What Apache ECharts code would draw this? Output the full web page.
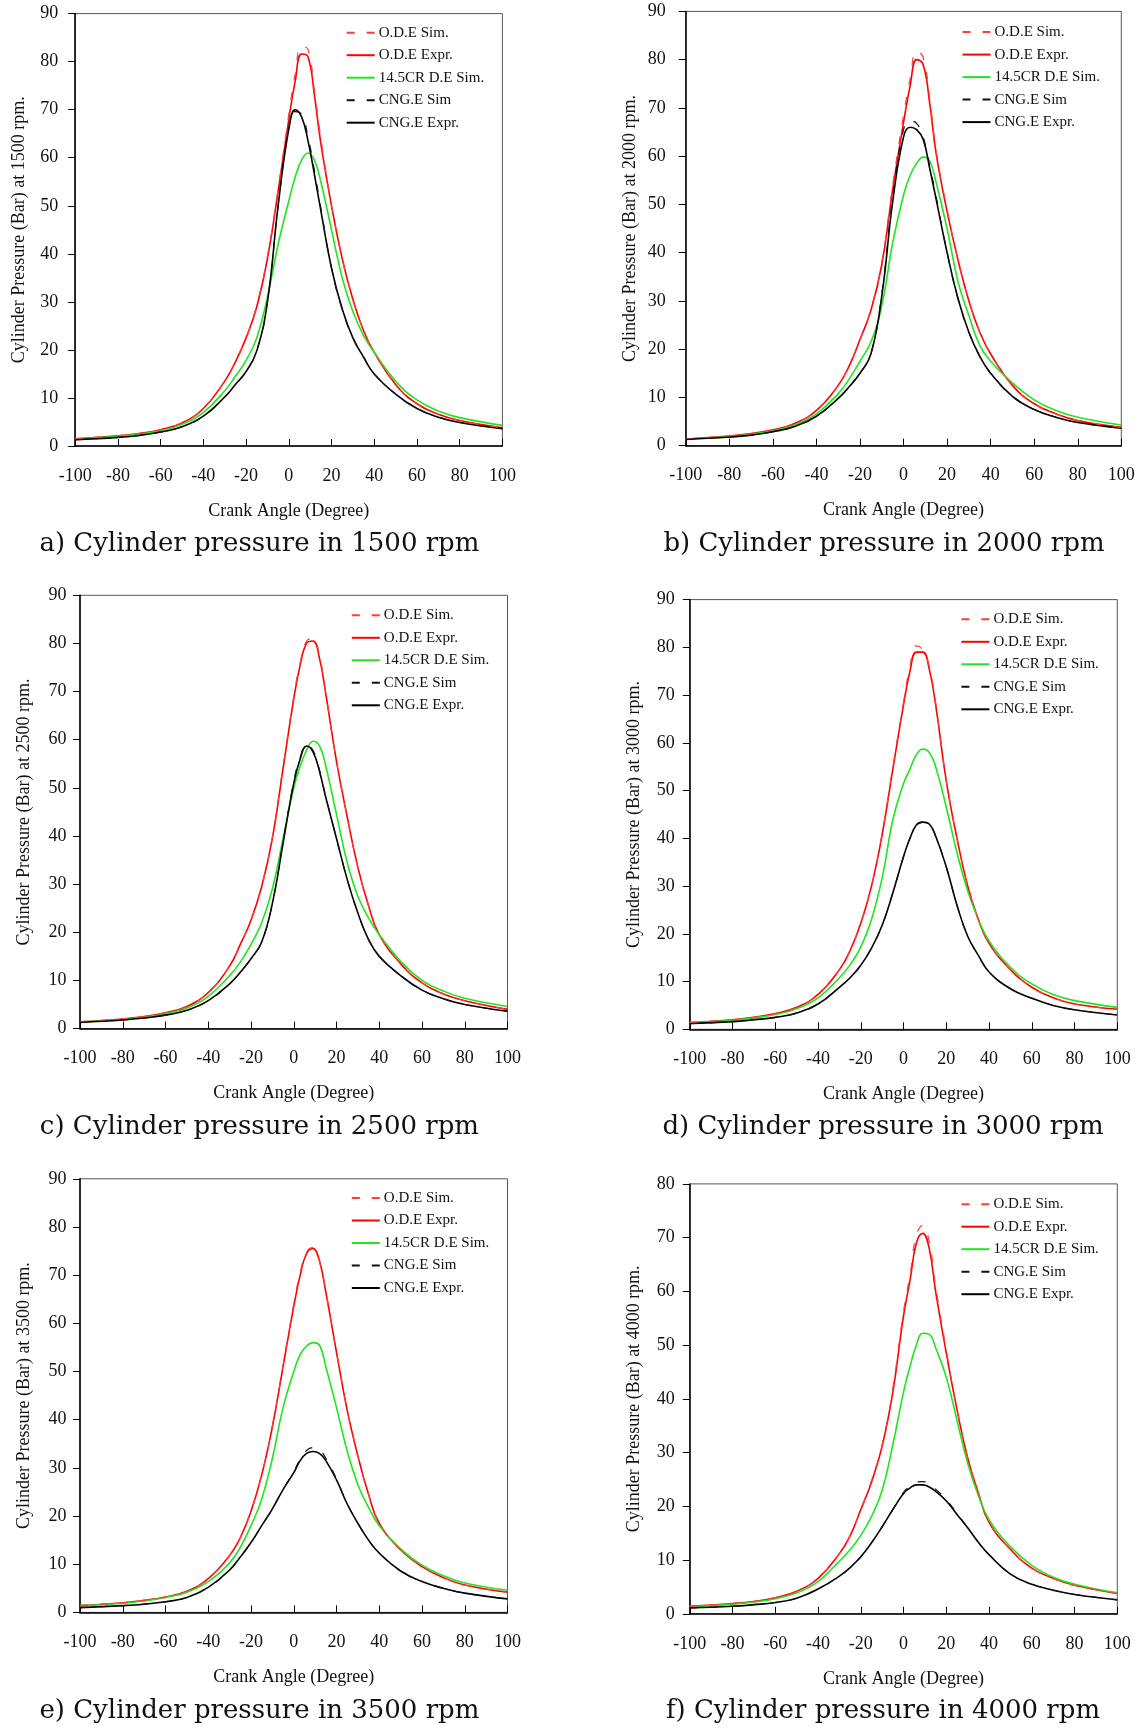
<!DOCTYPE html>
<html>
<head>
<meta charset="utf-8">
<script src="https://cdn.jsdelivr.net/npm/echarts@6/dist/echarts.min.js"></script>
<style>
html,body{margin:0;padding:0;background:#fff;}
#chart{width:1141px;height:1728px;}
</style>
</head>
<body>
<div id="chart"></div>
<script>
// Crank angle sample points (degrees)
const crankAngle = [-100,-80,-70,-60,-50,-40,-30,-25,-20,-15,-10,-5,0,3,6,9,12,15,20,25,30,35,40,50,60,70,80,100];
const seriesNames = ['O.D.E Sim.','O.D.E Expr.','14.5CR D.E Sim.','CNG.E Sim','CNG.E Expr.'];
const rpmLabels = ['1500','2000','2500','3000','3500','4000'];
const captions = ['a) Cylinder pressure in 1500 rpm','b) Cylinder pressure in 2000 rpm','c) Cylinder pressure in 2500 rpm','d) Cylinder pressure in 3000 rpm','e) Cylinder pressure in 3500 rpm','f) Cylinder pressure in 4000 rpm'];
const yMax = [90,90,90,90,90,80];

// a) 1500 rpm
const odeSimA = [1.5,2.1,2.6,3.4,4.8,7.8,13.5,17.5,22.5,29.3,39.5,53.5,69,77.5,83.3,82.5,74,64,50,39,30.5,24,19.5,12.8,8.8,6.6,5.3,3.8];
const odeExpA = [1.5,2.1,2.6,3.4,4.8,7.8,13.5,17.5,22.5,29,39,53,68,76,81.6,81,73,63,50,39,30.5,24,19.5,12.8,8.8,6.6,5.3,3.8];
const deA     = [1.5,2.0,2.5,3.2,4.5,7.0,11.5,14.5,17.8,22.5,31,42,51,56,59.5,61,59.5,55,45,35,28,23,19.5,13.5,9.6,7.3,5.9,4.3];
const cngSimA = [1.3,1.8,2.2,2.9,4.0,6.2,10.2,12.8,15.5,19.8,30,50,66,69.6,69,64.3,57.3,49.5,37,28.5,22.5,18.5,15,10.8,7.8,6.0,4.9,3.6];
const cngExpA = [1.3,1.8,2.2,2.9,4.0,6.2,10.2,12.8,15.5,19.8,30,50,66,70,68.5,63.5,56.5,49,37,28.5,22.5,18.5,15,10.8,7.8,6.0,4.9,3.6];
// b) 2000 rpm
const odeSimB = [1.4,2.0,2.5,3.3,4.6,7.3,12.5,16.5,22,28.3,38,54,68.5,76,81.8,80.5,72,61,49,38.5,30,23.5,19,12.5,8.7,6.6,5.2,3.8];
const odeExpB = [1.4,2.0,2.5,3.3,4.6,7.3,12.5,16.5,22,28,37.5,53,67,74.5,80,79,71,60.5,48.5,38.5,30,23.5,19,12.5,8.7,6.6,5.2,3.8];
const deB     = [1.4,1.9,2.4,3.1,4.3,6.6,10.8,13.8,17.5,21.5,29,42,52,56,58.5,59.8,59,54.5,45,34,27,20.8,17.5,13,9.5,7.3,5.9,4.3];
const cngSimB = [1.3,1.8,2.2,2.9,4.0,6.1,9.8,12.2,15,19,31.5,51.5,65.5,67.3,66.8,64,58,51.5,40,30.5,23.5,18.5,15,10.2,7.5,5.9,4.8,3.6];
const cngExpB = [1.3,1.8,2.2,2.9,4.0,6.1,9.8,12.2,15,19,31,50.5,64,66,65.5,63.5,57.5,51,40,30.5,23.5,18.5,15,10.2,7.5,5.9,4.8,3.6];
// c) 2500 rpm
const odeSimC = [1.4,2.0,2.5,3.3,4.6,7.5,13,17.5,22.5,29.5,39.8,54.5,69,76,80.5,81,77.5,69.5,55.5,44,33.5,25.5,19.5,13.5,9.5,7.2,5.8,4.0];
const odeExpC = [1.4,2.0,2.5,3.3,4.6,7.5,13,17.5,22.5,29.5,39.5,54,68.5,75.5,80,80.5,77,69.5,55.5,44,33.5,25.5,19.5,13.5,9.5,7.2,5.8,4.0];
const deC     = [1.4,1.9,2.4,3.1,4.3,6.7,11,13.8,17.5,22,29,39.5,50,54.5,57.8,59.7,58.8,54.5,44.5,34.5,27.5,23,19.5,14,10,7.8,6.3,4.6];
const cngSimC = [1.3,1.8,2.2,2.8,3.8,5.8,9.3,11.7,14.5,18,26,38.8,51.3,56.3,58.9,57.8,53.8,48.2,39.5,31,24,18.5,15,11,8,6.2,5,3.6];
const cngExpC = [1.3,1.8,2.2,2.8,3.8,5.8,9.3,11.7,14.5,18,26,38.5,51,56,58.7,57.5,53.5,48,39.5,31,24,18.5,15,11,8,6.2,5,3.6];
// d) 3000 rpm
const odeSimD = [1.4,2.0,2.5,3.3,4.6,7.3,12.5,16.5,22.2,30,41,55,68.5,76,80.3,79.5,76,68.5,52,40,30,23,18,12.5,8.8,6.6,5.3,4.2];
const odeExpD = [1.4,2.0,2.5,3.3,4.6,7.3,12.5,16.5,22.2,30,40.8,54.5,68,75,79,79,75.5,68,52,40,30,23,18,12.5,8.8,6.6,5.3,4.2];
const deD     = [1.4,1.9,2.4,3.1,4.3,6.6,10.8,13.5,17.2,23,31.7,43.9,51.5,54.5,57.5,58.7,58,55,46.5,37,29,23,18.5,13,9.5,7.3,6.0,4.6];
const cngSimD = [1.2,1.6,2.0,2.5,3.4,5.3,8.8,10.8,13.4,17,21.8,28.6,36.2,40,42.8,43.4,43,40.5,34,26,19.5,15.5,12,8.5,6.5,5.0,4.1,3.0];
const cngExpD = [1.2,1.6,2.0,2.5,3.4,5.3,8.8,10.8,13.4,17,21.8,28.6,36.2,40,42.8,43.4,43,40.5,34,26,19.5,15.5,12,8.5,6.5,5.0,4.1,3.0];
// e) 3500 rpm
const odeSimE = [1.4,2.0,2.5,3.2,4.4,7.0,11.8,15.5,21,28.5,38.7,51.3,64,70.5,74.8,75.7,73,66.5,54,42,32.5,24.5,18.5,13,9.5,7.2,5.7,4.2];
const odeExpE = [1.4,2.0,2.5,3.2,4.4,7.0,11.8,15.5,21,28.5,38.5,51,63.5,70,74.5,75.5,73,66.5,54,42,32.5,24.5,18.5,13,9.5,7.2,5.7,4.2];
const deE     = [1.4,1.9,2.4,3.1,4.2,6.4,10.3,13.5,18,23.5,32,42.5,50,53.5,55.3,56,55.5,51,42.5,33.5,26.5,21.8,18,13.2,9.8,7.6,6.1,4.6];
const cngSimE = [1.0,1.4,1.7,2.2,3.1,5.2,8.8,11.5,14.5,18,21.5,25.5,29.2,31.8,33.6,34.2,33.8,32,27.7,22.6,18.5,15,12.3,8.6,6.4,5,4,2.8];
const cngExpE = [1.0,1.4,1.7,2.2,3.1,5.2,8.8,11.5,14.5,18,21.5,25.5,29,31.5,33,33.4,33,31.5,27.5,22.5,18.5,15,12.3,8.6,6.4,5,4,2.8];
// f) 4000 rpm
const odeSimF = [1.4,1.9,2.3,3.0,4.2,6.6,11.2,14.5,19.4,24.8,31.5,42,56.3,63,70.5,72.3,69.3,61,49,38,29,22.5,17,12,8.5,6.6,5.3,3.8];
const odeExpF = [1.4,1.9,2.3,3.0,4.2,6.6,11.2,14.5,19.4,24.5,31.2,41.3,55.5,62,69,70.8,68,60,48.5,38,29,22.5,17,12,8.5,6.6,5.3,3.8];
const deF     = [1.3,1.8,2.2,2.8,3.9,6.0,9.8,11.9,14.6,18.1,23,31.5,41.3,46,50,52.2,52,49.5,44,36,28,22,17.5,12.5,9,6.8,5.5,3.9];
const cngSimF = [1.1,1.4,1.7,2.1,2.9,4.6,7.0,8.6,10.6,13.2,16.2,19.4,22.6,23.8,24.5,24.6,24.2,23.2,21.2,18.7,16,13.3,11,7.4,5.5,4.4,3.6,2.6];
const cngExpF = [1.1,1.4,1.7,2.1,2.9,4.6,7.0,8.6,10.6,13.2,16.2,19.4,22.4,23.4,24,24,23.6,22.8,21,18.5,16,13.3,11,7.4,5.5,4.4,3.6,2.6];

const panelData = [
  [odeSimA, odeExpA, deA, cngSimA, cngExpA],
  [odeSimB, odeExpB, deB, cngSimB, cngExpB],
  [odeSimC, odeExpC, deC, cngSimC, cngExpC],
  [odeSimD, odeExpD, deD, cngSimD, cngExpD],
  [odeSimE, odeExpE, deE, cngSimE, cngExpE],
  [odeSimF, odeExpF, deF, cngSimF, cngExpF]
];

// layout (pixels)
const grids = [
  {left:75.2, top:13.6, width:427.2, height:432.4},
  {left:685.8, top:11.4, width:435.5, height:434.3},
  {left:80, top:595.3, width:427.5, height:433.3},
  {left:689.8, top:599.6, width:427.5, height:429.7},
  {left:80, top:1178.8, width:427.5, height:433.6},
  {left:689.8, top:1183.9, width:427.5, height:429.9}
];
const yLabelMargin = [17,20,13.5,15,13.5,15];
const legendPos = [[345.7,25.2],[961.5,24.6],[350.8,607.8],[960.4,611.8],[350.8,1190.5],[960.4,1196.7]];
const captionPos = [[259.4,544],[884,544],[259.4,1127],[883,1127],[259.4,1711.5],[883,1711.5]];

const styles = [
  {color:'#ff3b3b', width:1.2, type:[8,12]},
  {color:'#ff0000', width:1.6, type:'solid'},
  {color:'#1ee61e', width:1.6, type:'solid'},
  {color:'#111111', width:1.2, type:[8,12]},
  {color:'#000000', width:1.6, type:'solid'}
];

const serif = '"Liberation Serif", "Times New Roman", serif';
const opt = {
  backgroundColor:'#ffffff',
  animation:false,
  grid:[], xAxis:[], yAxis:[], series:[], legend:[], graphic:[]
};

grids.forEach((g, i) => {
  opt.grid.push(Object.assign({show:true, borderColor:'#555', borderWidth:1, containLabel:false}, g));
  opt.xAxis.push({
    type:'value', gridIndex:i, min:-100, max:100, interval:20,
    name:'Crank Angle (Degree)', nameLocation:'middle', nameGap:56,
    nameTextStyle:{fontFamily:serif, fontSize:18, color:'#111'},
    axisLine:{show:true, onZero:false, lineStyle:{color:'#000', width:1.5}},
    axisTick:{show:true, inside:true, length:7, lineStyle:{color:'#000', width:1}},
    axisLabel:{fontFamily:serif, fontSize:18, color:'#111', margin:21, showMinLabel:true, showMaxLabel:true},
    splitLine:{show:false}
  });
  opt.yAxis.push({
    type:'value', gridIndex:i, min:0, max:yMax[i], interval:10,
    name:'Cylinder Pressure (Bar) at ' + rpmLabels[i] + ' rpm.', nameLocation:'middle', nameGap:46.5,
    nameTextStyle:{fontFamily:serif, fontSize:18, color:'#111'},
    axisLine:{show:true, onZero:false, lineStyle:{color:'#000', width:1.5}},
    axisTick:{show:true, inside:false, length:7, lineStyle:{color:'#000', width:1}},
    axisLabel:{fontFamily:serif, fontSize:18, color:'#111', margin:yLabelMargin[i]},
    splitLine:{show:false}
  });
  panelData[i].forEach((vals, k) => {
    opt.series.push({
      name:seriesNames[k], type:'line', xAxisIndex:i, yAxisIndex:i,
      data:crankAngle.map((x, j) => [x, vals[j]]),
      showSymbol:false, symbol:'none', smooth:0.45,
      lineStyle:{color:styles[k].color, width:styles[k].width, type:styles[k].type},
      itemStyle:{color:styles[k].color},
      emphasis:{disabled:true}, z: (k===1||k===4||k===2) ? 2 : 3
    });
  });
  opt.legend.push({
    orient:'vertical', left:legendPos[i][0], top:legendPos[i][1], padding:0,
    itemWidth:28, itemHeight:14, itemGap:7.5, selectedMode:false,
    data:seriesNames,
    itemStyle:{color:'rgba(0,0,0,0)', borderWidth:0, opacity:0},
    textStyle:{fontFamily:serif, fontSize:15, color:'#111', padding:[0,0,0,-1]}
  });
  opt.graphic.push({
    type:'text', x:captionPos[i][0], y:captionPos[i][1],
    style:{text:captions[i], font:'26px "DejaVu Serif", serif', fill:'#111',
      textAlign:'center', textVerticalAlign:'middle', align:'center', verticalAlign:'middle'}
  });
});

const chart = echarts.init(document.getElementById('chart'), null, {renderer:'canvas', width:1141, height:1728});
chart.setOption(opt);
</script>
</body>
</html>
